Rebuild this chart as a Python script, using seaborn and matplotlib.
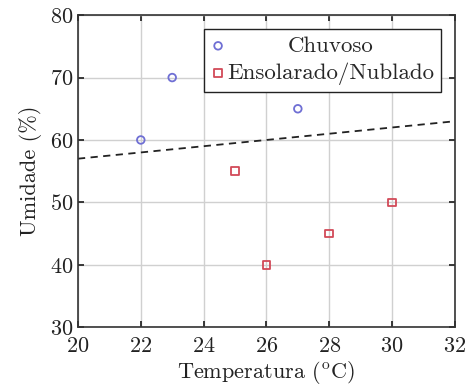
import matplotlib

matplotlib.use("Agg")

import matplotlib.pyplot as plt  # noqa: E402
import seaborn as sns  # noqa: E402

# data
chuvoso_temp = [22, 23, 27]
chuvoso_umid = [60, 70, 65]
sol_temp = [25, 26, 28, 30]
sol_umid = [55, 40, 45, 50]
line_temp = [20, 32]
line_umid = [57, 63]

x_ticks = [20, 22, 24, 26, 28, 30, 32]
y_ticks = [30, 40, 50, 60, 70, 80]

sns.set_theme(style="whitegrid")
plt.rcParams["font.family"] = ["cmr10", "DejaVu Serif"]
plt.rcParams["axes.formatter.use_mathtext"] = True
plt.rcParams["mathtext.fontset"] = "cm"

fig = plt.figure(figsize=(4.67, 3.89), dpi=100)
ax = fig.add_axes([0.167, 0.159, 0.807, 0.802])

blue = "#6f6fd4"
red = "#d24a58"

sns.lineplot(x=line_temp, y=line_umid, ax=ax, color="#222222",
             linestyle=(0, (4, 3)), linewidth=1.3, legend=False)
sns.scatterplot(x=chuvoso_temp, y=chuvoso_umid, ax=ax, marker="o", s=30,
                facecolors="none", edgecolor=blue, linewidth=1.3,
                label="Chuvoso", zorder=3)
sns.scatterplot(x=sol_temp, y=sol_umid, ax=ax, marker="s", s=30,
                facecolors="none", edgecolor=red, linewidth=1.3,
                label="Ensolarado/Nublado", zorder=3)

ax.set_xlim(20, 32)
ax.set_ylim(30, 80)
ax.set_xticks(x_ticks)
ax.set_yticks(y_ticks)
ax.set_xlabel(r"Temperatura ($^{\mathrm{o}}$C)", fontsize=16, color="#222222",
              labelpad=2)
ax.set_ylabel("Umidade (%)", fontsize=16, color="#222222", labelpad=6)
ax.tick_params(labelsize=16, colors="#222222", direction="in", length=4,
               top=True, right=True, bottom=True, left=True, pad=3)
ax.tick_params(axis="x", pad=7)
ax.grid(True, color="#d0d0d0", linewidth=1)
for s in ax.spines.values():
    s.set_color("#333333")
    s.set_linewidth(1.2)

leg = ax.legend(loc="upper right", fontsize=16.5, frameon=True, fancybox=False,
                edgecolor="#222222", framealpha=1, handletextpad=0.1,
                handlelength=0.6, borderpad=0.3, labelspacing=0.3,
                borderaxespad=0.6)
leg.get_frame().set_linewidth(1.0)

# centre the first label inside the legend box, like the reference
fig.canvas.draw()
texts = leg.get_texts()
w0 = texts[0].get_window_extent().width
w1 = texts[1].get_window_extent().width
texts[0].set_position(((w1 - w0) / 2, 0))

fig.savefig("out.png", dpi=100)
plt.close(fig)
